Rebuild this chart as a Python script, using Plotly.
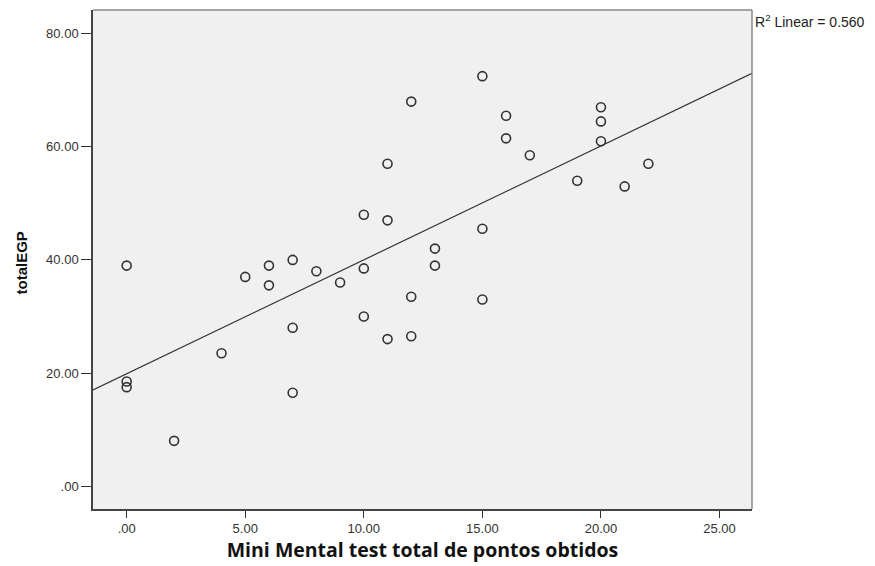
import numpy as np
import plotly.graph_objects as go

# Data
mmse = [0, 0, 0, 2, 4, 5, 6, 6, 7, 7, 7, 8, 9, 10, 10, 10, 11, 11, 11, 12, 12, 12,
        13, 13, 15, 15, 15, 16, 16, 17, 19, 20, 20, 20, 21, 22]
total_egp = [39, 18.5, 17.5, 8, 23.5, 37, 39, 35.5, 40, 28, 16.5, 38, 36, 48, 38.5, 30,
             57, 47, 26, 68, 33.5, 26.5, 42, 39, 72.5, 45.5, 33, 65.5, 61.5, 58.5, 54,
             67, 64.5, 61, 53, 57]

x_tickvals = [0, 5, 10, 15, 20, 25]
x_ticktext = [".00", "5.00", "10.00", "15.00", "20.00", "25.00"]
y_tickvals = [0, 20, 40, 60, 80]
y_ticktext = [".00", "20.00", "40.00", "60.00", "80.00"]

x_range = [-1.42, 26.37]
y_range = [-4.05, 84.2]

xa = np.array(mmse, dtype=float)
ya = np.array(total_egp, dtype=float)
slope, intercept = np.polyfit(xa, ya, 1)
r2_text = "R<sup>2</sup> Linear = 0.560"

line_x = np.array(x_range)
line_y = slope * line_x + intercept

fig = go.Figure()
fig.add_trace(go.Scatter(
    x=line_x, y=line_y, mode="lines",
    line=dict(color="#333333", width=1.2),
    hoverinfo="skip", showlegend=False,
))
fig.add_trace(go.Scatter(
    x=mmse, y=total_egp, mode="markers",
    marker=dict(symbol="circle-open", size=9, color="#333333",
                line=dict(width=1.6, color="#333333")),
    showlegend=False,
))

tick_font = dict(family="Liberation Sans, Arial, sans-serif", size=13, color="#333333")

fig.update_layout(
    width=875, height=566,
    margin=dict(l=93, r=122.5, t=10, b=55),
    paper_bgcolor="white",
    plot_bgcolor="#F0F0F0",
    xaxis=dict(
        range=x_range, tickvals=x_tickvals, ticktext=x_ticktext,
        showgrid=False, zeroline=False,
        showline=True, linecolor="#444444", linewidth=1.5,
        ticks="outside", ticklen=7, tickwidth=1.2, tickcolor="#333333",
        tickfont=tick_font,
        title=dict(text="<b>Mini Mental test total de pontos obtidos</b>",
                   font=dict(family="Open Sans, Noto Sans, sans-serif", size=19.5, color="#111111"),
                   standoff=6),
    ),
    yaxis=dict(
        range=y_range, tickvals=y_tickvals, ticktext=y_ticktext,
        showgrid=False, zeroline=False,
        showline=True, linecolor="#444444", linewidth=1.5,
        ticks="outside", ticklen=10, tickwidth=1.2, tickcolor="#333333",
        tickfont=tick_font,
    ),
    shapes=[
        dict(type="line", xref="paper", yref="paper", x0=0, x1=1, y0=1, y1=1,
             line=dict(color="#8a8a8a", width=1.5)),
        dict(type="line", xref="paper", yref="paper", x0=1, x1=1, y0=0, y1=1,
             line=dict(color="#8a8a8a", width=1.5)),
    ],
    annotations=[
        dict(text=r2_text, xref="paper", yref="paper", x=1.0, y=1.0,
             xanchor="left", yanchor="top", showarrow=False, xshift=1,
             font=dict(family="Liberation Sans, Arial, sans-serif", size=14, color="#222222")),
        dict(text="<b>totalEGP</b>", xref="paper", yref="paper", x=0, y=0.5,
             xanchor="center", yanchor="middle", textangle=-90, showarrow=False,
             xshift=-72, yshift=-4,
             font=dict(family="Liberation Sans, Arial, sans-serif", size=15, color="#111111")),
    ],
)

fig.write_html("out.html")
